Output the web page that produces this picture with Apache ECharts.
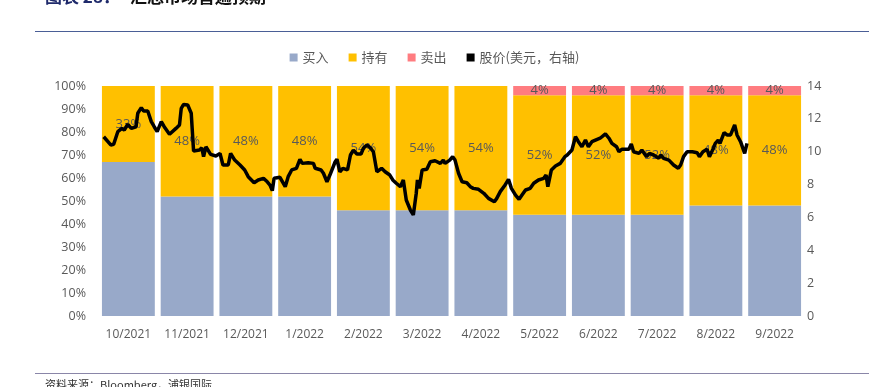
<!DOCTYPE html>
<html>
<head>
<meta charset="utf-8">
<script src="https://cdn.jsdelivr.net/npm/echarts@6/dist/echarts.min.js"></script>
<style>
html,body{margin:0;padding:0;background:#fff;}
#c{width:869px;height:387px;}
</style>
</head>
<body>
<div id="c"></div>
<script>
const categories = ['10/2021','11/2021','12/2021','1/2022','2/2022','3/2022','4/2022','5/2022','6/2022','7/2022','8/2022','9/2022'];
const buyPct  = [67,52,52,52,46,46,46,44,44,44,48,48];
const holdPct = [33,48,48,48,54,54,54,52,52,52,48,48];
const sellPct = [0,0,0,0,0,0,0,4,4,4,4,4];
// stock price (USD), position in months since start of 10/2021
const priceMonth = [0.08,0.20,0.25,0.32,0.39,0.43,0.49,0.55,0.63,0.66,0.72,0.76,0.83,0.89,0.94,0.99,1.06,1.11,1.20,1.31,1.37,1.40,1.44,1.51,1.57,1.61,1.71,1.75,1.78,1.82,1.90,1.99,
2.06,2.11,2.20,2.24,2.31,2.40,2.48,2.54,2.64,2.71,2.80,2.85,2.91,2.95,2.98,3.08,3.17,3.22,3.28,3.36,3.42,3.46,3.56,3.65,3.68,3.78,3.82,3.88,3.93,4.02,
4.05,4.10,4.15,4.23,4.28,4.33,4.39,4.46,4.50,4.56,4.61,4.67,4.73,4.81,4.87,4.95,5.00,5.06,5.13,5.18,5.23,5.30,5.35,5.40,5.42,5.45,5.50,5.58,5.64,5.72,5.81,5.86,5.89,5.97,
6.02,6.06,6.12,6.18,6.26,6.32,6.37,6.46,6.55,6.63,6.73,6.77,6.83,6.90,6.97,7.02,7.09,7.15,7.20,7.26,7.34,7.40,7.48,7.57,7.61,7.64,7.70,7.77,7.85,7.93,
7.97,8.05,8.11,8.16,8.22,8.28,8.33,8.39,8.48,8.53,8.62,8.68,8.73,8.81,8.85,8.90,9.02,9.06,9.10,9.19,9.24,9.32,9.37,9.44,9.53,
9.56,9.61,9.70,9.78,9.86,9.90,9.95,10.01,10.10,10.18,10.22,10.28,10.35,10.39,10.45,10.49,10.54,10.57,10.64,10.69,10.75,10.82,10.86,10.92,10.99,11.03];
const priceUsd = [10.91,10.41,10.45,11.22,11.42,11.32,11.67,11.42,11.52,12.34,12.68,12.48,12.48,11.83,11.52,11.22,11.83,11.52,11.06,11.42,11.63,12.64,12.88,12.84,12.34,10.04,10.10,10.24,9.70,10.30,9.84,9.74,
9.90,9.19,9.19,9.90,9.49,9.19,8.89,8.48,8.11,8.28,8.38,8.22,7.97,7.63,8.38,8.44,7.87,8.48,8.89,8.99,9.54,9.29,9.33,9.29,8.99,8.89,8.69,8.17,8.58,9.39,
9.54,8.78,8.99,8.89,9.80,10.10,9.86,9.86,10.21,10.41,10.27,10.00,8.78,8.99,8.78,8.58,8.28,8.08,7.87,8.28,7.06,6.45,6.15,7.47,8.28,7.77,8.89,8.93,9.39,9.45,9.29,9.49,9.29,9.49,
9.70,9.49,8.69,8.17,8.11,7.87,7.77,7.71,7.47,7.16,6.96,7.16,7.57,7.91,8.32,7.77,7.36,7.10,7.36,7.67,7.77,8.08,8.28,8.38,8.58,7.87,8.89,9.13,9.29,9.70,
9.80,10.10,10.91,10.61,10.30,10.71,10.30,10.61,10.75,10.82,11.08,10.82,10.51,10.30,10.00,10.15,10.15,10.47,10.00,9.90,10.10,9.70,9.90,9.80,9.60,
9.80,9.60,9.49,9.19,8.99,9.19,9.70,10.00,10.00,9.94,9.70,10.00,10.15,9.70,10.15,10.51,10.71,10.51,11.16,11.02,11.02,11.63,11.02,10.61,9.90,10.51];
const seriesNames = ['买入','持有','卖出','股价(美元，右轴)'];

const chart = echarts.init(document.getElementById('c'));
const txt = '#595959';
const font = '"Open Sans", "Noto Sans CJK SC", sans-serif';
const pctLabel = {
  show: true, position: 'inside', color: txt, fontSize: 13, fontFamily: font,
  formatter: p => p.value > 0 ? p.value + '%' : ''
};
chart.setOption({
  animation: false,
  textStyle: {fontFamily: font},
  grid: {left: 99, right: 65, top: 86, bottom: 71},
  legend: {
    top: 46, left: 'center', icon: 'rect', itemWidth: 8, itemHeight: 8, itemGap: 20,
    textStyle: {color: txt, fontSize: 13, fontFamily: '"Noto Sans CJK SC", sans-serif'},
    data: seriesNames
  },
  xAxis: [
    {type: 'category', data: categories, axisLine: {show: false}, axisTick: {show: false},
     axisLabel: {color: txt, fontSize: 12, margin: 13, interval: 0, fontFamily: font}},
    {type: 'value', min: 0, max: 12, show: false}
  ],
  yAxis: [
    {type: 'value', min: 0, max: 100, interval: 10, splitLine: {show: false},
     axisLine: {show: false}, axisTick: {show: false},
     axisLabel: {color: txt, fontSize: 12.5, margin: 13, formatter: '{value}%', fontFamily: font}},
    {type: 'value', min: 0, max: 14, interval: 2, splitLine: {show: false},
     axisLine: {show: false}, axisTick: {show: false},
     axisLabel: {color: txt, fontSize: 12.5, margin: 3, fontFamily: font}}
  ],
  series: [
    {name: seriesNames[0], type: 'bar', stack: 's', data: buyPct, barCategoryGap: '10%',
     itemStyle: {color: '#98A9C9'}, z: 2},
    {name: seriesNames[1], type: 'bar', stack: 's', data: holdPct,
     itemStyle: {color: '#FFC000'}, label: pctLabel, z: 2},
    {name: seriesNames[2], type: 'bar', stack: 's', data: sellPct,
     itemStyle: {color: '#FF7C80'}, label: pctLabel, z: 2},
    {name: seriesNames[3], type: 'line', xAxisIndex: 1, yAxisIndex: 1,
     data: priceMonth.map((m, i) => [m, priceUsd[i]]),
     showSymbol: false, symbol: 'none', lineStyle: {color: '#000', width: 3.5}, itemStyle: {color: '#000'},
     z: 5}
  ],
  graphic: [
    {type: 'text', left: 45, top: -12, style: {text: '图表 28：', fill: '#1F2A6B', font: 'bold 17px "Noto Sans CJK SC"'}},
    {type: 'text', left: 130, top: -12, style: {text: '汇总市场普遍预期', fill: '#111', font: 'bold 17px "Noto Sans CJK SC"'}},
    {type: 'line', shape: {x1: 35, y1: 31.5, x2: 869, y2: 31.5}, style: {stroke: '#4A5E96', lineWidth: 1}},
    {type: 'line', shape: {x1: 35, y1: 373.5, x2: 869, y2: 373.5}, style: {stroke: '#8A86A8', lineWidth: 1}},
    {type: 'text', left: 45, top: 379, style: {text: '资料来源：Bloomberg，浦银国际', fill: '#333', font: '11px "Noto Sans CJK SC"'}}
  ]
});
</script>
</body>
</html>
